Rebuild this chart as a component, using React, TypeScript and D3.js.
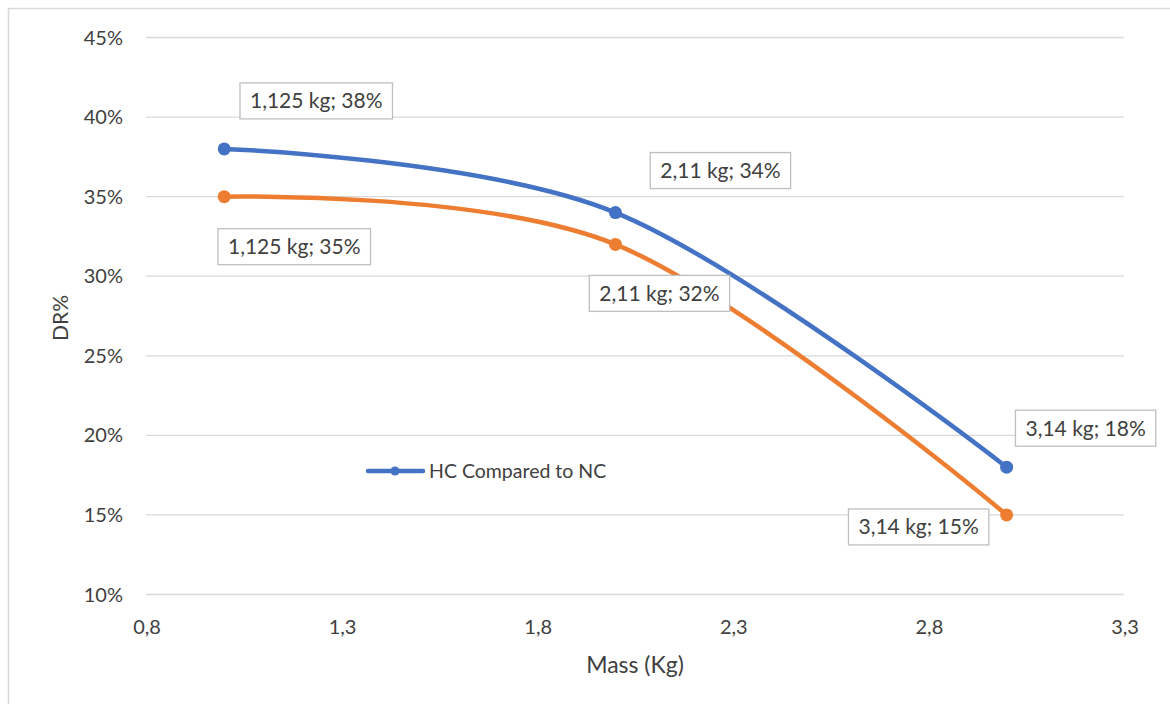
import { useEffect, useRef } from "react";
import * as d3 from "d3";

// x values as plotted, and the text shown in the data labels
const MASS = [1, 2, 3];
const MASS_TEXT = ["1,125", "2,11", "3,14"];
const HC_VS_NC = [38, 34, 18];
const SECOND_SERIES = [35, 32, 15];

const X_TICKS = [0.8, 1.3, 1.8, 2.3, 2.8, 3.3];
const Y_TICKS = [10, 15, 20, 25, 30, 35, 40, 45];

const BLUE = "#4472C4";
const ORANGE = "#ED7D31";
const TEXT = "#404040";
const GRID = "#d9d9d9";
const FONT = "Lato, 'Open Sans', sans-serif";

// label box centre offsets from their point, in px
const BLUE_LABEL_OFFSETS = [
  [92, -48],
  [105, -42],
  [79, -39],
];
const ORANGE_LABEL_OFFSETS = [
  [70, 50],
  [44, 49],
  [-88, 12],
];

function App() {
  const ref = useRef<SVGSVGElement>(null);

  useEffect(() => {
    const svg = d3.select(ref.current);
    svg.selectAll("*").remove();

    const x = d3.scaleLinear().domain([0.8, 3.3]).range([146, 1124]);
    const y = d3.scaleLinear().domain([10, 45]).range([594.5, 37.5]);

    // outer chart frame (right and bottom edges fall outside the picture)
    svg
      .append("rect")
      .attr("x", 8.5)
      .attr("y", 8.5)
      .attr("width", 1300)
      .attr("height", 900)
      .attr("fill", "#fff")
      .attr("stroke", GRID)
      .attr("stroke-width", 1.5);

    svg
      .append("g")
      .selectAll("line")
      .data(Y_TICKS)
      .join("line")
      .attr("x1", x(0.8))
      .attr("x2", x(3.3))
      .attr("y1", (d) => y(d))
      .attr("y2", (d) => y(d))
      .attr("stroke", GRID)
      .attr("stroke-width", 1.3);

    svg
      .append("g")
      .selectAll("text")
      .data(Y_TICKS)
      .join("text")
      .attr("x", 123)
      .attr("y", (d) => y(d))
      .attr("dy", "0.35em")
      .attr("text-anchor", "end")
      .attr("fill", TEXT)
      .style("font", `20px ${FONT}`)
      .text((d) => `${d}%`);

    svg
      .append("g")
      .selectAll("text")
      .data(X_TICKS)
      .join("text")
      .attr("x", (d) => x(d) + 1)
      .attr("y", 634)
      .attr("text-anchor", "middle")
      .attr("fill", TEXT)
      .style("font", `20px ${FONT}`)
      .text((d) => d3.format(".1f")(d).replace(".", ","));

    svg
      .append("text")
      .attr("x", 635)
      .attr("y", 673)
      .attr("text-anchor", "middle")
      .attr("fill", TEXT)
      .style("font", `23px ${FONT}`)
      .text("Mass (Kg)");

    svg
      .append("text")
      .attr("transform", "translate(68,318) rotate(-90)")
      .attr("text-anchor", "middle")
      .attr("fill", TEXT)
      .style("font", `21px ${FONT}`)
      .text("DR%");

    const line = d3
      .line<[number, number]>()
      .x((d) => x(d[0]))
      .y((d) => y(d[1]))
      .curve(d3.curveCardinal.tension(0));

    const series = [
      { values: SECOND_SERIES, color: ORANGE, offsets: ORANGE_LABEL_OFFSETS },
      { values: HC_VS_NC, color: BLUE, offsets: BLUE_LABEL_OFFSETS },
    ];

    series.forEach((s) => {
      const pts = MASS.map((m, i) => [m, s.values[i]] as [number, number]);
      svg
        .append("path")
        .datum(pts)
        .attr("fill", "none")
        .attr("stroke", s.color)
        .attr("stroke-width", 4.5)
        .attr("stroke-linecap", "round")
        .attr("d", line);
      svg
        .append("g")
        .selectAll("circle")
        .data(pts)
        .join("circle")
        .attr("cx", (d) => x(d[0]))
        .attr("cy", (d) => y(d[1]))
        .attr("r", 6.5)
        .attr("fill", s.color);
    });

    // data labels
    series.forEach((s) => {
      MASS.forEach((m, i) => {
        const cx = x(m) + s.offsets[i][0];
        const cy = y(s.values[i]) + s.offsets[i][1];
        const g = svg.append("g");
        const rect = g
          .append("rect")
          .attr("fill", "#fff")
          .attr("stroke", "#bfbfbf")
          .attr("stroke-width", 1.3);
        const t = g
          .append("text")
          .attr("x", cx)
          .attr("y", cy)
          .attr("dy", "0.35em")
          .attr("text-anchor", "middle")
          .attr("fill", TEXT)
          .style("font", `21px ${FONT}`)
          .text(`${MASS_TEXT[i]} kg; ${s.values[i]}%`);
        const w = (t.node() as SVGTextElement).getComputedTextLength() + 20;
        rect
          .attr("x", cx - w / 2)
          .attr("y", cy - 18)
          .attr("width", w)
          .attr("height", 36);
      });
    });

    // legend (only the blue series is listed)
    const lg = svg.append("g");
    lg.append("line")
      .attr("x1", 368)
      .attr("x2", 423)
      .attr("y1", 471)
      .attr("y2", 471)
      .attr("stroke", BLUE)
      .attr("stroke-width", 4.5)
      .attr("stroke-linecap", "round");
    lg.append("circle").attr("cx", 395).attr("cy", 471).attr("r", 4.5).attr("fill", BLUE);
    lg.append("text")
      .attr("x", 429)
      .attr("y", 471)
      .attr("dy", "0.35em")
      .attr("fill", TEXT)
      .style("font", `19.5px ${FONT}`)
      .text("HC Compared to NC");
  }, []);

  return (
    <div style={{ position: "fixed", left: 0, top: 0, width: 1170, height: 704, background: "#fff" }}>
      <svg ref={ref} width={1170} height={704} style={{ display: "block" }} />
    </div>
  );
}

export default App;
